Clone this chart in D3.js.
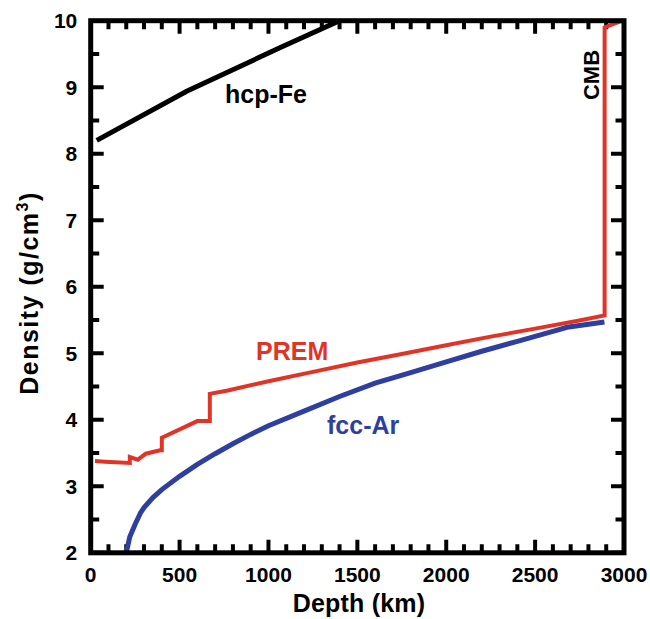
<!DOCTYPE html>
<html>
<head>
<meta charset="utf-8">
<script src="https://cdn.jsdelivr.net/npm/d3@7/dist/d3.min.js"></script>
<style>
  html, body { margin: 0; padding: 0; background: #fff; }
  svg { display: block; font-family: "Liberation Sans", Arial, Helvetica, sans-serif; font-weight: bold; }
</style>
</head>
<body>
<svg id="chart" width="650" height="619"></svg>
<script>
// Density profiles versus depth (km, g/cm^3)
const premDepth   = [24, 80, 220, 220, 265, 310, 390, 400, 400, 600, 670, 670, 771, 1000, 1250, 1500, 1750, 2000, 2250, 2500, 2741, 2891, 2891, 2990];
const premDensity = [3.38, 3.37, 3.35, 3.44, 3.40, 3.49, 3.54, 3.54, 3.73, 3.98, 3.98, 4.39, 4.44, 4.58, 4.72, 4.86, 4.99, 5.12, 5.25, 5.37, 5.49, 5.57, 9.90, 10.0];

const arDepth   = [200, 220, 250, 280, 300, 350, 400, 500, 600, 700, 800, 900, 1000, 1200, 1400, 1600, 1800, 2000, 2200, 2400, 2600, 2680, 2890];
const arDensity = [2.0, 2.24, 2.43, 2.60, 2.68, 2.83, 2.95, 3.15, 3.33, 3.49, 3.64, 3.78, 3.91, 4.13, 4.35, 4.55, 4.71, 4.87, 5.03, 5.18, 5.33, 5.39, 5.47];

const feDepth   = [34, 540, 1070, 1400];
const feDensity = [8.20, 8.94, 9.60, 10.0];

const xMajorTicks = [0, 500, 1000, 1500, 2000, 2500, 3000];
const yMajorTicks = [2, 3, 4, 5, 6, 7, 8, 9, 10];

const svg = d3.select("#chart");
const plotLeft = 90.7, plotRight = 624, plotTop = 20.7, plotBottom = 552.8;

const x = d3.scaleLinear().domain([0, 3000]).range([plotLeft, plotRight]);
const y = d3.scaleLinear().domain([2, 10]).range([plotBottom, plotTop]);

const xMinorTicks = d3.range(100, 3000, 100).filter(v => v % 500 !== 0);
const yMinorTicks = d3.range(2.5, 10, 1);
const majorLen = 13, minorLen = 8.5;

svg.append("clipPath").attr("id", "plot-clip")
  .append("rect").attr("x", plotLeft).attr("y", plotTop)
  .attr("width", plotRight - plotLeft).attr("height", plotBottom - plotTop);

const plot = svg.append("g").attr("clip-path", "url(#plot-clip)");

// Inward tick marks on all four sides (they sit inside the plot area)
const xTickSet = xMajorTicks.map(d => [d, majorLen]).concat(xMinorTicks.map(d => [d, minorLen]));
const yTickSet = yMajorTicks.map(d => [d, majorLen]).concat(yMinorTicks.map(d => [d, minorLen]));
const tickPath = d3.path();
xTickSet.forEach(t => {
  tickPath.moveTo(x(t[0]), plotBottom); tickPath.lineTo(x(t[0]), plotBottom - t[1]);
  tickPath.moveTo(x(t[0]), plotTop);    tickPath.lineTo(x(t[0]), plotTop + t[1]);
});
yTickSet.forEach(t => {
  tickPath.moveTo(plotLeft, y(t[0]));  tickPath.lineTo(plotLeft + t[1], y(t[0]));
  tickPath.moveTo(plotRight, y(t[0])); tickPath.lineTo(plotRight - t[1], y(t[0]));
});
plot.append("path")
  .attr("d", tickPath.toString())
  .attr("fill", "none")
  .attr("stroke", "#000")
  .attr("stroke-width", 4);

// Density curves, clipped to the plot frame
const lineGen = d3.line().x(d => x(d[0])).y(d => y(d[1]));
const series = [
  { depth: feDepth, dens: feDensity, color: "#000000", width: 5 },
  { depth: arDepth, dens: arDensity, color: "#2f3f9f", width: 5 },
  { depth: premDepth, dens: premDensity, color: "#e03426", width: 4 }
];
series.forEach(s => {
  plot.append("path")
    .datum(s.depth.map((d, i) => [d, s.dens[i]]))
    .attr("d", lineGen)
    .attr("fill", "none")
    .attr("stroke", s.color)
    .attr("stroke-width", s.width)
    .attr("stroke-linejoin", "miter");
});

// Frame
svg.append("rect")
  .attr("x", plotLeft).attr("y", plotTop)
  .attr("width", plotRight - plotLeft).attr("height", plotBottom - plotTop)
  .attr("fill", "none").attr("stroke", "#000").attr("stroke-width", 5);

// Tick labels
svg.append("g").selectAll("text").data(xMajorTicks).join("text")
  .attr("x", d => x(d)).attr("y", 582)
  .attr("text-anchor", "middle").style("font-size", "21px")
  .text(d => d);
svg.append("g").selectAll("text").data(yMajorTicks).join("text")
  .attr("x", 77.3).attr("y", d => y(d)).attr("dy", "0.36em")
  .attr("text-anchor", "end").style("font-size", "21px")
  .text(d => d);

// Axis titles
svg.append("text")
  .attr("x", 359).attr("y", 611.5)
  .attr("text-anchor", "middle").style("font-size", "25px").style("letter-spacing", "0.2px")
  .text("Depth (km)");

const yTitle = svg.append("text")
  .attr("transform", "translate(37.5,293) rotate(-90)")
  .attr("text-anchor", "middle").style("font-size", "25px").style("letter-spacing", "1.5px");
yTitle.append("tspan").text("Density (g/cm");
yTitle.append("tspan").attr("dy", -10).style("font-size", "16px").text("3");
yTitle.append("tspan").attr("dy", 10).text(")");

// Curve labels
svg.append("text").attr("x", 225).attr("y", 102.5).style("font-size", "25px").attr("fill", "#000").text("hcp-Fe");
svg.append("text").attr("x", 256).attr("y", 359.5).style("font-size", "25px").attr("fill", "#e03426").text("PREM");
svg.append("text").attr("x", 327).attr("y", 433.5).style("font-size", "25px").attr("fill", "#2f3f9f").text("fcc-Ar");
svg.append("text")
  .attr("transform", "translate(599,75) rotate(-90)")
  .attr("text-anchor", "middle").style("font-size", "22px").attr("fill", "#000")
  .text("CMB");
</script>
</body>
</html>
